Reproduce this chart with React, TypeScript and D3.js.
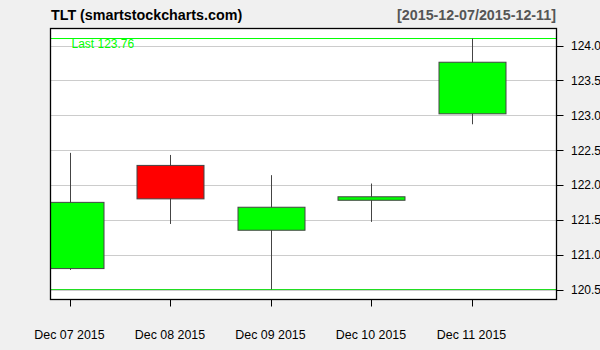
import React from "react";
import * as d3 from "d3";

const dates = ["Dec 07 2015", "Dec 08 2015", "Dec 09 2015", "Dec 10 2015", "Dec 11 2015"];
const opens = [120.8, 122.28, 121.35, 121.78, 123.02];
const highs = [122.46, 122.43, 122.14, 122.02, 124.1];
const lows = [120.78, 121.44, 120.5, 121.47, 122.87];
const closes = [121.75, 121.8, 121.68, 121.83, 123.76];
const yTicks = [120.5, 121.0, 121.5, 122.0, 122.5, 123.0, 123.5, 124.0];
const title = "TLT (smartstockcharts.com)";
const rangeLabel = "[2015-12-07/2015-12-11]";
const lastLabel = "Last 123.76";

const W = 600;
const H = 350;
const L = 50.5;
const R = 556.5;
const T = 28.5;
const B = 299.5;

export default function App() {
  const x = d3.scaleLinear().domain([0, dates.length - 1]).range([69.5, 471.5]);
  const y = d3.scaleLinear().domain([120.5, 124.0]).range([289.5, 45.5]);
  const bodyW = 67;
  const hi = d3.max(highs) as number;
  const lo = d3.min(lows) as number;
  const font = "'Liberation Sans', Arial, sans-serif";

  return (
    <svg
      width={W}
      height={H}
      style={{ position: "absolute", left: 0, top: 0, background: "#f0f0f0" }}
      fontFamily={font}
    >
      <defs>
        <clipPath id="plotclip">
          <rect x={L} y={T} width={R - L} height={B - T} />
        </clipPath>
      </defs>
      <rect x={0} y={0} width={W} height={H} fill="#f0f0f0" />
      <rect x={L} y={T} width={R - L} height={B - T} fill="#ffffff" />

      {/* grid */}
      {yTicks.map((t) => (
        <line key={"g" + t} x1={L} x2={R} y1={Math.round(y(t)) + 0.5} y2={Math.round(y(t)) + 0.5} stroke="#cccccc" strokeWidth={1} />
      ))}

      {/* hi/lo lines */}
      <line x1={L} x2={R} y1={y(hi)} y2={y(hi)} stroke="#00ff00" strokeWidth={1} />
      <line x1={L} x2={R} y1={y(lo)} y2={y(lo)} stroke="#22dd22" strokeWidth={1} />

      <g clipPath="url(#plotclip)">
        {dates.map((d, i) => {
          const up = closes[i] >= opens[i];
          const top = y(Math.max(opens[i], closes[i]));
          const bot = y(Math.min(opens[i], closes[i]));
          const cx = Math.round(x(i)) + 0.5;
          return (
            <g key={d}>
              <line x1={cx} x2={cx} y1={y(highs[i])} y2={y(lows[i])} stroke="#444444" strokeWidth={1} />
              <rect
                x={cx - bodyW / 2}
                y={top}
                width={bodyW}
                height={Math.max(bot - top, 1)}
                fill={up ? "#00ff00" : "#ff0000"}
                stroke="#444444"
                strokeWidth={1}
              />
            </g>
          );
        })}
      </g>

      <text x={71.5} y={47.5} fontSize={12} fill="#00ff00">
        {lastLabel}
      </text>

      {/* border */}
      <rect x={L} y={T} width={R - L} height={B - T} fill="none" stroke="#000000" strokeWidth={1.3} />

      {/* y axis */}
      {yTicks.map((t) => (
        <g key={"y" + t}>
          <line x1={R} x2={R + 7} y1={Math.round(y(t)) + 0.5} y2={Math.round(y(t)) + 0.5} stroke="#000" strokeWidth={1} />
          <text x={571} y={y(t) + 4.5} fontSize={12} fill="#000">
            {t.toFixed(1)}
          </text>
        </g>
      ))}

      {/* x axis */}
      {dates.map((d, i) => (
        <g key={"x" + d}>
          <line x1={Math.round(x(i)) + 0.5} x2={Math.round(x(i)) + 0.5} y1={B} y2={B + 7} stroke="#000" strokeWidth={1} />
          <text x={x(i)} y={339} fontSize={12.4} textAnchor="middle" fill="#000">
            {d}
          </text>
        </g>
      ))}

      <text x={51} y={19.5} fontSize={14.3} fontWeight="bold" fill="#000">
        {title}
      </text>
      <text x={556} y={19.5} fontSize={14.3} fontWeight="bold" fill="#555555" textAnchor="end">
        {rangeLabel}
      </text>
    </svg>
  );
}
